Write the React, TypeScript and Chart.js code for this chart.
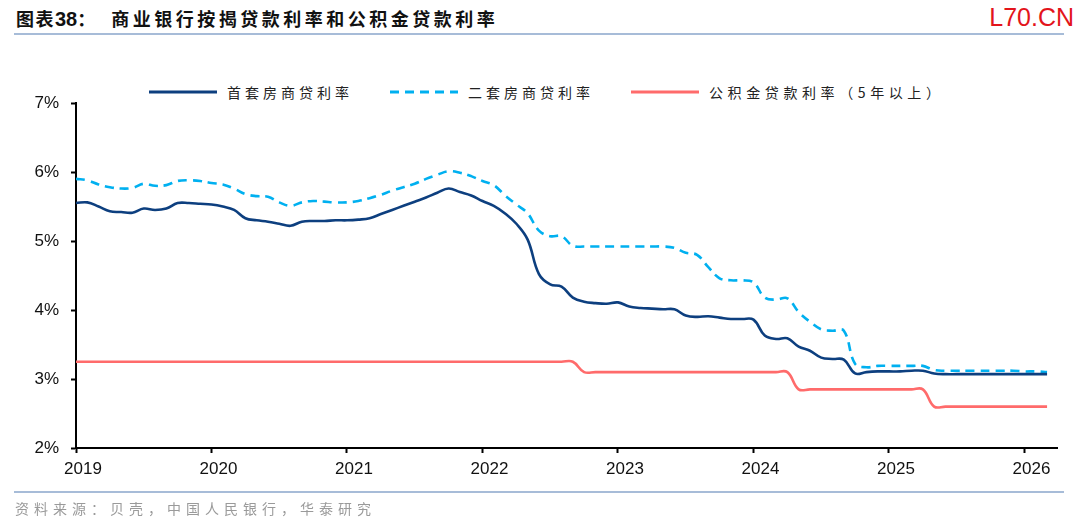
import React, { useEffect, useRef } from "react";
import { Chart, registerables } from "chart.js";

Chart.register(...registerables);

// Monthly observation labels (Jan 2019 – Mar 2026)
const MONTHS: string[] = [
  "2019-01","2019-02","2019-03","2019-04","2019-05","2019-06","2019-07","2019-08","2019-09","2019-10","2019-11","2019-12",
  "2020-01","2020-02","2020-03","2020-04","2020-05","2020-06","2020-07","2020-08","2020-09","2020-10","2020-11","2020-12",
  "2021-01","2021-02","2021-03","2021-04","2021-05","2021-06","2021-07","2021-08","2021-09","2021-10","2021-11","2021-12",
  "2022-01","2022-02","2022-03","2022-04","2022-05","2022-06","2022-07","2022-08","2022-09","2022-10","2022-11","2022-12",
  "2023-01","2023-02","2023-03","2023-04","2023-05","2023-06","2023-07","2023-08","2023-09","2023-10","2023-11","2023-12",
  "2024-01","2024-02","2024-03","2024-04","2024-05","2024-06","2024-07","2024-08","2024-09","2024-10","2024-11","2024-12",
  "2025-01","2025-02","2025-03","2025-04","2025-05","2025-06","2025-07","2025-08","2025-09","2025-10","2025-11","2025-12",
  "2026-01","2026-02","2026-03",
];

// 首套房商贷利率 (%)
const FIRST_HOME: number[] = [
  5.55,5.56,5.50,5.43,5.42,5.41,5.47,5.45,5.47,5.55,5.55,5.54,
  5.53,5.50,5.45,5.33,5.30,5.28,5.25,5.22,5.28,5.29,5.29,5.30,
  5.30,5.31,5.33,5.39,5.45,5.51,5.57,5.63,5.70,5.76,5.71,5.66,
  5.58,5.51,5.40,5.25,5.02,4.52,4.37,4.34,4.18,4.12,4.10,4.09,
  4.11,4.05,4.03,4.02,4.01,4.01,3.92,3.90,3.91,3.89,3.87,3.87,
  3.86,3.63,3.58,3.59,3.47,3.41,3.31,3.29,3.28,3.08,3.10,3.11,
  3.11,3.11,3.12,3.12,3.08,3.07,3.07,3.07,3.07,3.07,3.07,3.07,
  3.07,3.07,3.07,
];

// 二套房商贷利率 (%)
const SECOND_HOME: number[] = [
  5.90,5.88,5.82,5.78,5.76,5.77,5.83,5.80,5.81,5.87,5.88,5.87,
  5.84,5.82,5.76,5.68,5.65,5.64,5.56,5.51,5.56,5.58,5.57,5.56,
  5.56,5.58,5.62,5.67,5.73,5.78,5.83,5.90,5.96,6.01,5.99,5.94,
  5.87,5.81,5.66,5.53,5.40,5.15,5.07,5.07,4.93,4.92,4.92,4.92,
  4.92,4.92,4.92,4.92,4.92,4.90,4.83,4.80,4.62,4.46,4.43,4.43,
  4.40,4.18,4.15,4.17,3.97,3.83,3.72,3.70,3.70,3.22,3.17,3.19,
  3.19,3.19,3.19,3.19,3.13,3.12,3.12,3.12,3.12,3.12,3.12,3.12,
  3.11,3.11,3.10,
];

// 公积金贷款利率（5年以上） (%)
const PROVIDENT: number[] = [
  3.25,3.25,3.25,3.25,3.25,3.25,3.25,3.25,3.25,3.25,3.25,3.25,
  3.25,3.25,3.25,3.25,3.25,3.25,3.25,3.25,3.25,3.25,3.25,3.25,
  3.25,3.25,3.25,3.25,3.25,3.25,3.25,3.25,3.25,3.25,3.25,3.25,
  3.25,3.25,3.25,3.25,3.25,3.25,3.25,3.25,3.25,3.10,3.10,3.10,
  3.10,3.10,3.10,3.10,3.10,3.10,3.10,3.10,3.10,3.10,3.10,3.10,
  3.10,3.10,3.10,3.10,2.85,2.85,2.85,2.85,2.85,2.85,2.85,2.85,
  2.85,2.85,2.85,2.85,2.60,2.60,2.60,2.60,2.60,2.60,2.60,2.60,
  2.60,2.60,2.60,
];

const SERIES_NAMES = ["首套房商贷利率", "二套房商贷利率", "公积金贷款利率（5年以上）"];
const YEAR_TICKS = [2019, 2020, 2021, 2022, 2023, 2024, 2025, 2026];
const Y_TICKS = [2, 3, 4, 5, 6, 7];
const X_MIN = 2019;
const X_MAX = 2026.24;

const COLORS = ["#0d3f7f", "#00b0f0", "#ff6b6b"];

function toX(m: string): number {
  const [y, mo] = m.split("-").map(Number);
  return y + (mo - 1) / 12;
}

function pts(values: number[]) {
  return values.map((v, i) => ({ x: toX(MONTHS[i]), y: v }));
}

const LegendItem: React.FC<{ color: string; dashed?: boolean; label: string; left: number; spacing?: number }> = ({
  color,
  dashed,
  label,
  left,
  spacing,
}) => (
  <div style={{ position: "absolute", left, top: 82, height: 20, display: "flex", alignItems: "center" }}>
    <svg width={70} height={6} style={{ display: "block" }}>
      <line
        x1={0}
        y1={3}
        x2={68}
        y2={3}
        stroke={color}
        strokeWidth={3}
        strokeDasharray={dashed ? "9 6" : undefined}
      />
    </svg>
    <span
      style={{
        marginLeft: 8,
        fontSize: 14,
        letterSpacing: spacing ?? 4,
        color: "#222",
        fontFamily: '"Noto Sans CJK SC", sans-serif',
        whiteSpace: "nowrap",
        lineHeight: "20px",
      }}
    >
      {label}
    </span>
  </div>
);

export default function App() {
  const canvasRef = useRef<HTMLCanvasElement | null>(null);

  useEffect(() => {
    const canvas = canvasRef.current;
    if (!canvas) return;
    const chart = new Chart(canvas, {
      type: "line",
      data: {
        datasets: [
          {
            label: SERIES_NAMES[0],
            data: pts(FIRST_HOME),
            borderColor: COLORS[0],
            borderWidth: 2.6,
            pointRadius: 0,
            tension: 0.4,
            fill: false,
          },
          {
            label: SERIES_NAMES[1],
            data: pts(SECOND_HOME),
            borderColor: COLORS[1],
            borderWidth: 2.6,
            borderDash: [9, 6],
            pointRadius: 0,
            tension: 0.4,
            fill: false,
          },
          {
            label: SERIES_NAMES[2],
            data: pts(PROVIDENT),
            borderColor: COLORS[2],
            borderWidth: 2.6,
            pointRadius: 0,
            tension: 0.4,
            fill: false,
          },
        ],
      },
      options: {
        animation: false,
        responsive: false,
        maintainAspectRatio: false,
        devicePixelRatio: 1,
        layout: { padding: { left: 0, top: 103, right: 23, bottom: 0 } },
        plugins: {
          legend: { display: false },
          tooltip: { enabled: false },
          title: { display: false },
        },
        scales: {
          x: {
            type: "linear",
            min: X_MIN,
            max: X_MAX,
            afterFit: (s: any) => {
              s.height = 525 - 448;
            },
            afterBuildTicks: (s: any) => {
              s.ticks = YEAR_TICKS.map((v) => ({ value: v }));
            },
            ticks: {
              includeBounds: false,
              stepSize: 1,
              autoSkip: false,
              maxRotation: 0,
              labelOffset: 7,
              padding: 6,
              color: "#111",
              font: { family: '"Liberation Sans", Arial, sans-serif', size: 17 },
              callback: (v: any) => String(v),
            },
            grid: {
              drawOnChartArea: false,
              drawTicks: true,
              tickLength: 5,
              tickWidth: 2,
              tickColor: "#000",
            },
            border: { display: true, color: "#000", width: 2 },
          },
          y: {
            type: "linear",
            min: 2,
            max: 7,
            afterFit: (s: any) => {
              s.width = 76;
            },
            afterBuildTicks: (s: any) => {
              s.ticks = Y_TICKS.map((v) => ({ value: v }));
            },
            ticks: {
              stepSize: 1,
              padding: 12,
              color: "#111",
              font: { family: '"Liberation Sans", Arial, sans-serif', size: 17 },
              callback: (v: any) => v + "%",
            },
            grid: {
              drawOnChartArea: false,
              drawTicks: true,
              tickLength: 5,
              tickWidth: 2,
              tickColor: "#000",
            },
            border: { display: true, color: "#000", width: 2 },
          },
        },
      },
    });
    return () => chart.destroy();
  }, []);

  return (
    <div
      style={{
        position: "fixed",
        left: 0,
        top: 0,
        width: 1080,
        height: 525,
        background: "#fff",
        overflow: "hidden",
      }}
    >
      <div
        style={{
          position: "absolute",
          left: 16,
          top: 5,
          fontSize: 18,
          fontWeight: 700,
          letterSpacing: 3.5,
          color: "#111",
          fontFamily: '"Noto Sans CJK SC", sans-serif',
          lineHeight: "26px",
          whiteSpace: "nowrap",
        }}
      >
        <span style={{ letterSpacing: 1.5 }}>图表</span>
        <span style={{ fontFamily: '"Liberation Sans", Arial, sans-serif', letterSpacing: 0, fontSize: 20 }}>38</span>
        <span style={{ letterSpacing: 0 }}>：</span>
        <span style={{ marginLeft: 16 }}>商业银行按揭贷款利率和公积金贷款利率</span>
      </div>
      <div
        style={{
          position: "absolute",
          right: 6,
          top: 3,
          fontSize: 25,
          color: "#e3141b",
          fontFamily: '"Liberation Sans", Arial, sans-serif',
          lineHeight: "28px",
        }}
      >
        L70.CN
      </div>
      <div style={{ position: "absolute", left: 14, top: 33, width: 1050, height: 2, background: "#a7bcd8" }} />

      <LegendItem color={COLORS[0]} label={SERIES_NAMES[0]} left={149} />
      <LegendItem color={COLORS[1]} dashed label={SERIES_NAMES[1]} left={390} />
      <LegendItem color={COLORS[2]} label={SERIES_NAMES[2]} left={631} spacing={4.6} />

      <canvas
        ref={canvasRef}
        width={1080}
        height={525}
        style={{ position: "absolute", left: 0, top: 0, width: 1080, height: 525 }}
      />

      <div style={{ position: "absolute", left: 14, top: 491, width: 1050, height: 2, background: "#a7bcd8" }} />
      <div
        style={{
          position: "absolute",
          left: 15,
          top: 498,
          fontSize: 14,
          letterSpacing: 5,
          color: "#9a9a9a",
          fontFamily: '"Noto Sans CJK SC", sans-serif',
          lineHeight: "20px",
          whiteSpace: "nowrap",
        }}
      >
        资料来源：贝壳，中国人民银行，华泰研究
      </div>
    </div>
  );
}
